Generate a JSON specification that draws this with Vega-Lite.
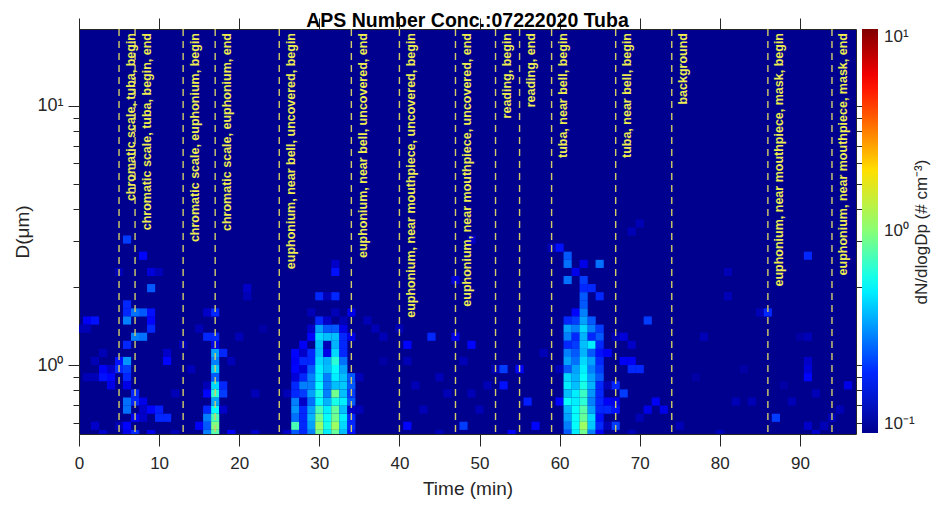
{
"$schema": "https://vega.github.io/schema/vega-lite/v6.json",
"width": 777, "height": 405,
"autosize": {"type": "none"},
"padding": {"left": 79, "top": 29, "right": 86, "bottom": 72},
"background": "white",
"title": {"text": "APS Number Conc.:07222020 Tuba", "fontSize": 19.5, "fontWeight": "bold", "font": "Liberation Sans", "color": "#000000", "baseline": "alphabetic", "offset": -29, "anchor": "middle"},
"config": {
  "view": {"fill": "#00008F", "stroke": null},
  "font": "Liberation Sans",
  "axis": {"domainColor": "#262626", "tickColor": "#262626", "labelColor": "#262626", "titleColor": "#262626", "grid": false, "labelFont": "Liberation Sans", "titleFont": "Liberation Sans", "titleFontWeight": "normal", "domainWidth": 1, "tickWidth": 1}
},
"datasets": {
"events": [
{"t":5,"label":"chromatic scale, tuba, begin"},
{"t":7,"label":"chromatic scale, tuba, begin, end"},
{"t":13,"label":"chromatic scale, euphonium, begin"},
{"t":17,"label":"chromatic scale, euphonium, end"},
{"t":25,"label":"euphonium, near bell, uncovered, begin"},
{"t":34,"label":"euphonium, near bell, uncovered, end"},
{"t":40,"label":"euphonium, near mouthpiece, uncovered, begin"},
{"t":47,"label":"euphonium, near mouthpiece, uncovered, end"},
{"t":52,"label":"reading, begin"},
{"t":55,"label":"reading, end"},
{"t":59,"label":"tuba, near bell, begin"},
{"t":67,"label":"tuba, near bell, begin"},
{"t":74,"label":"background"},
{"t":86,"label":"euphonium, near mouthpiece, mask, begin"},
{"t":94,"label":"euphonium, near mouthpiece, mask, end"}
],
"cells": [
{"t":0,"d":1.382,"v":0.12},
{"t":1,"d":1.486,"v":0.16},{"t":1,"d":1.382,"v":0.12},{"t":1,"d":0.898,"v":0.12},
{"t":2,"d":1.486,"v":0.18},{"t":2,"d":1.037,"v":0.12},{"t":2,"d":0.898,"v":0.12},{"t":2,"d":0.583,"v":0.13},
{"t":3,"d":0.898,"v":0.18},{"t":3,"d":0.965,"v":0.16},{"t":3,"d":0.542,"v":0.13},{"t":3,"d":1.114,"v":0.12},
{"t":4,"d":0.898,"v":0.17},{"t":4,"d":0.835,"v":0.15},{"t":4,"d":0.965,"v":0.13},
{"t":5,"d":0.965,"v":0.2},{"t":5,"d":1.037,"v":0.18},{"t":5,"d":2.288,"v":0.12},{"t":5,"d":0.583,"v":0.12},
{"t":6,"d":3.051,"v":0.22},{"t":6,"d":1.715,"v":0.2},{"t":6,"d":1.596,"v":0.2},{"t":6,"d":1.486,"v":0.3},{"t":6,"d":1.197,"v":0.2},{"t":6,"d":1.037,"v":0.33},{"t":6,"d":0.965,"v":0.22},{"t":6,"d":0.898,"v":0.2},{"t":6,"d":0.835,"v":0.15},{"t":6,"d":0.723,"v":0.28},{"t":6,"d":0.673,"v":0.28},{"t":6,"d":0.583,"v":0.17},{"t":6,"d":0.542,"v":0.15},
{"t":7,"d":1.596,"v":0.28},{"t":7,"d":1.286,"v":0.3},{"t":7,"d":0.777,"v":0.2},{"t":7,"d":0.723,"v":0.2},{"t":7,"d":0.626,"v":0.16},{"t":7,"d":0.542,"v":0.2},
{"t":8,"d":2.642,"v":0.17},{"t":8,"d":1.596,"v":0.25},{"t":8,"d":1.286,"v":0.28},{"t":8,"d":0.723,"v":0.15},{"t":8,"d":0.673,"v":0.13},{"t":8,"d":0.626,"v":0.13},
{"t":9,"d":1.981,"v":0.25},{"t":9,"d":1.596,"v":0.18},{"t":9,"d":1.486,"v":0.17},{"t":9,"d":1.382,"v":0.2},{"t":9,"d":0.673,"v":0.17},{"t":9,"d":0.542,"v":0.15},{"t":9,"d":2.288,"v":0.14},
{"t":10,"d":0.626,"v":0.2},{"t":10,"d":0.673,"v":0.19},{"t":10,"d":2.288,"v":0.12},
{"t":11,"d":0.626,"v":0.2},{"t":11,"d":1.037,"v":0.17},{"t":11,"d":1.114,"v":0.13},
{"t":12,"d":0.542,"v":0.12},{"t":12,"d":0.777,"v":0.12},
{"t":13,"d":1.197,"v":0.12},
{"t":14,"d":0.965,"v":0.12},
{"t":15,"d":0.583,"v":0.16},{"t":15,"d":1.382,"v":0.12},
{"t":16,"d":1.286,"v":0.2},{"t":16,"d":0.835,"v":0.12},{"t":16,"d":0.777,"v":0.17},{"t":16,"d":0.673,"v":0.2},{"t":16,"d":0.626,"v":0.3},{"t":16,"d":0.583,"v":0.25},{"t":16,"d":0.542,"v":0.3},{"t":16,"d":1.596,"v":0.13},
{"t":17,"d":0.542,"v":0.8},{"t":17,"d":0.583,"v":0.95},{"t":17,"d":0.626,"v":0.75},{"t":17,"d":0.673,"v":0.55},{"t":17,"d":0.723,"v":0.35},{"t":17,"d":0.777,"v":0.65},{"t":17,"d":0.835,"v":0.45},{"t":17,"d":0.898,"v":0.25},{"t":17,"d":0.965,"v":0.42},{"t":17,"d":1.037,"v":0.3},{"t":17,"d":1.114,"v":0.35},{"t":17,"d":1.197,"v":0.15},{"t":17,"d":1.286,"v":0.2},{"t":17,"d":1.596,"v":0.2},
{"t":18,"d":1.114,"v":0.2},{"t":18,"d":0.835,"v":0.2},{"t":18,"d":0.777,"v":0.22},{"t":18,"d":0.673,"v":0.13},
{"t":19,"d":0.542,"v":0.16},{"t":19,"d":1.037,"v":0.12},
{"t":20,"d":1.286,"v":0.12},
{"t":21,"d":1.843,"v":0.12},{"t":21,"d":1.981,"v":0.13},
{"t":22,"d":0.542,"v":0.13},{"t":22,"d":0.777,"v":0.12},
{"t":23,"d":1.382,"v":0.11},
{"t":26,"d":0.542,"v":0.13},{"t":26,"d":0.777,"v":0.12},
{"t":27,"d":0.542,"v":0.25},{"t":27,"d":0.583,"v":0.75},{"t":27,"d":0.626,"v":0.28},{"t":27,"d":0.673,"v":0.33},{"t":27,"d":0.723,"v":0.3},{"t":27,"d":0.777,"v":0.2},{"t":27,"d":0.835,"v":0.2},{"t":27,"d":0.898,"v":0.14},{"t":27,"d":0.965,"v":0.17},{"t":27,"d":1.037,"v":0.16},{"t":27,"d":1.114,"v":0.17},
{"t":28,"d":0.542,"v":0.2},{"t":28,"d":0.583,"v":0.2},{"t":28,"d":0.626,"v":0.2},{"t":28,"d":0.673,"v":0.2},{"t":28,"d":0.723,"v":0.13},{"t":28,"d":0.777,"v":0.22},{"t":28,"d":0.835,"v":0.3},{"t":28,"d":0.898,"v":0.2},{"t":28,"d":0.965,"v":0.14},{"t":28,"d":1.037,"v":0.2},{"t":28,"d":1.114,"v":0.13},{"t":28,"d":1.197,"v":0.16},
{"t":29,"d":0.542,"v":0.3},{"t":29,"d":0.583,"v":0.35},{"t":29,"d":0.626,"v":0.38},{"t":29,"d":0.673,"v":0.35},{"t":29,"d":0.723,"v":0.28},{"t":29,"d":0.777,"v":0.35},{"t":29,"d":0.835,"v":0.3},{"t":29,"d":0.898,"v":0.3},{"t":29,"d":0.965,"v":0.25},{"t":29,"d":1.037,"v":0.2},{"t":29,"d":1.114,"v":0.2},{"t":29,"d":1.286,"v":0.17},{"t":29,"d":1.382,"v":0.13},{"t":29,"d":1.596,"v":0.12},
{"t":30,"d":0.542,"v":0.9},{"t":30,"d":0.583,"v":1.1},{"t":30,"d":0.626,"v":0.9},{"t":30,"d":0.673,"v":0.75},{"t":30,"d":0.723,"v":0.55},{"t":30,"d":0.777,"v":0.6},{"t":30,"d":0.835,"v":0.55},{"t":30,"d":0.898,"v":0.5},{"t":30,"d":0.965,"v":0.5},{"t":30,"d":1.037,"v":0.45},{"t":30,"d":1.114,"v":0.4},{"t":30,"d":1.197,"v":0.4},{"t":30,"d":1.286,"v":0.45},{"t":30,"d":1.382,"v":0.35},{"t":30,"d":1.486,"v":0.2},{"t":30,"d":1.843,"v":0.2},
{"t":31,"d":0.542,"v":0.5},{"t":31,"d":0.583,"v":0.6},{"t":31,"d":0.626,"v":0.55},{"t":31,"d":0.673,"v":0.5},{"t":31,"d":0.723,"v":0.38},{"t":31,"d":0.777,"v":0.3},{"t":31,"d":0.835,"v":0.3},{"t":31,"d":0.898,"v":0.3},{"t":31,"d":0.965,"v":0.4},{"t":31,"d":1.037,"v":0.38},{"t":31,"d":1.114,"v":0.15},{"t":31,"d":1.197,"v":0.12},{"t":31,"d":1.286,"v":0.4},{"t":31,"d":1.382,"v":0.25},{"t":31,"d":1.486,"v":0.13},{"t":31,"d":1.843,"v":0.12},
{"t":32,"d":0.542,"v":0.85},{"t":32,"d":0.583,"v":1.1},{"t":32,"d":0.626,"v":0.9},{"t":32,"d":0.673,"v":0.85},{"t":32,"d":0.723,"v":0.6},{"t":32,"d":0.777,"v":0.9},{"t":32,"d":0.835,"v":0.4},{"t":32,"d":0.898,"v":0.5},{"t":32,"d":0.965,"v":0.55},{"t":32,"d":1.037,"v":0.65},{"t":32,"d":1.114,"v":0.45},{"t":32,"d":1.197,"v":0.38},{"t":32,"d":1.286,"v":0.4},{"t":32,"d":1.382,"v":0.25},{"t":32,"d":1.596,"v":0.12},{"t":32,"d":1.843,"v":0.2},{"t":32,"d":2.288,"v":0.18},{"t":32,"d":2.458,"v":0.13},
{"t":33,"d":0.542,"v":0.4},{"t":33,"d":0.583,"v":0.45},{"t":33,"d":0.626,"v":0.5},{"t":33,"d":0.673,"v":0.4},{"t":33,"d":0.723,"v":0.5},{"t":33,"d":0.777,"v":0.4},{"t":33,"d":0.835,"v":0.42},{"t":33,"d":0.898,"v":0.4},{"t":33,"d":0.965,"v":0.35},{"t":33,"d":1.037,"v":0.28},{"t":33,"d":1.114,"v":0.2},{"t":33,"d":1.197,"v":0.2},{"t":33,"d":1.286,"v":0.2},{"t":33,"d":1.382,"v":0.15},{"t":33,"d":1.486,"v":0.12},
{"t":34,"d":0.542,"v":0.18},{"t":34,"d":0.583,"v":0.2},{"t":34,"d":0.626,"v":0.2},{"t":34,"d":0.673,"v":0.13},{"t":34,"d":0.723,"v":0.25},{"t":34,"d":0.777,"v":0.22},{"t":34,"d":0.835,"v":0.25},{"t":34,"d":0.898,"v":0.25},{"t":34,"d":1.286,"v":0.15},{"t":34,"d":1.596,"v":0.15},
{"t":35,"d":0.673,"v":0.12},{"t":35,"d":0.898,"v":0.12},
{"t":36,"d":1.486,"v":0.12},
{"t":37,"d":1.382,"v":0.12},
{"t":38,"d":1.286,"v":0.12},{"t":38,"d":1.037,"v":0.11},
{"t":40,"d":1.382,"v":0.12},
{"t":41,"d":1.197,"v":0.17},{"t":41,"d":0.583,"v":0.17},{"t":41,"d":1.037,"v":0.12},
{"t":42,"d":0.835,"v":0.12},
{"t":43,"d":0.673,"v":0.12},
{"t":44,"d":1.286,"v":0.2},
{"t":45,"d":0.898,"v":0.12},{"t":45,"d":0.542,"v":0.12},
{"t":46,"d":0.777,"v":0.12},
{"t":47,"d":1.286,"v":0.15},{"t":47,"d":2.129,"v":0.14},
{"t":48,"d":0.583,"v":0.22},{"t":48,"d":1.037,"v":0.12},
{"t":49,"d":1.197,"v":0.17},{"t":49,"d":3.051,"v":0.13},{"t":49,"d":0.777,"v":0.12},
{"t":50,"d":0.673,"v":0.12},
{"t":51,"d":0.835,"v":0.12},
{"t":52,"d":0.965,"v":0.12},
{"t":53,"d":0.965,"v":0.22},{"t":53,"d":0.835,"v":0.18},
{"t":54,"d":0.542,"v":0.16},
{"t":55,"d":0.965,"v":0.17},
{"t":56,"d":0.723,"v":0.19},
{"t":57,"d":0.583,"v":0.17},
{"t":58,"d":1.114,"v":0.12},
{"t":59,"d":2.839,"v":0.12},
{"t":60,"d":2.839,"v":0.18},{"t":60,"d":0.723,"v":0.17},{"t":60,"d":0.965,"v":0.12},
{"t":61,"d":2.642,"v":0.25},{"t":61,"d":2.458,"v":0.28},{"t":61,"d":2.129,"v":0.28},{"t":61,"d":1.486,"v":0.2},{"t":61,"d":1.382,"v":0.35},{"t":61,"d":1.286,"v":0.3},{"t":61,"d":1.197,"v":0.2},{"t":61,"d":1.114,"v":0.3},{"t":61,"d":1.037,"v":0.35},{"t":61,"d":0.965,"v":0.25},{"t":61,"d":0.898,"v":0.45},{"t":61,"d":0.835,"v":0.5},{"t":61,"d":0.777,"v":0.4},{"t":61,"d":0.723,"v":0.55},{"t":61,"d":0.673,"v":0.38},{"t":61,"d":0.626,"v":0.35},{"t":61,"d":0.583,"v":0.3},{"t":61,"d":0.542,"v":0.25},
{"t":62,"d":2.288,"v":0.15},{"t":62,"d":1.596,"v":0.17},{"t":62,"d":1.486,"v":0.22},{"t":62,"d":1.382,"v":0.3},{"t":62,"d":1.286,"v":0.2},{"t":62,"d":1.197,"v":0.22},{"t":62,"d":1.114,"v":0.25},{"t":62,"d":1.037,"v":0.28},{"t":62,"d":0.965,"v":0.35},{"t":62,"d":0.898,"v":0.38},{"t":62,"d":0.835,"v":0.4},{"t":62,"d":0.777,"v":0.5},{"t":62,"d":0.723,"v":0.5},{"t":62,"d":0.673,"v":0.55},{"t":62,"d":0.626,"v":0.55},{"t":62,"d":0.583,"v":0.55},{"t":62,"d":0.542,"v":0.5},
{"t":63,"d":2.458,"v":0.15},{"t":63,"d":2.129,"v":0.22},{"t":63,"d":1.981,"v":0.2},{"t":63,"d":1.843,"v":0.25},{"t":63,"d":1.715,"v":0.25},{"t":63,"d":1.596,"v":0.3},{"t":63,"d":1.486,"v":0.35},{"t":63,"d":1.382,"v":0.45},{"t":63,"d":1.286,"v":0.38},{"t":63,"d":1.197,"v":0.4},{"t":63,"d":1.114,"v":0.38},{"t":63,"d":1.037,"v":0.45},{"t":63,"d":0.965,"v":0.5},{"t":63,"d":0.898,"v":0.55},{"t":63,"d":0.835,"v":0.6},{"t":63,"d":0.777,"v":0.7},{"t":63,"d":0.723,"v":0.65},{"t":63,"d":0.673,"v":0.8},{"t":63,"d":0.626,"v":0.85},{"t":63,"d":0.583,"v":1.1},{"t":63,"d":0.542,"v":0.9},
{"t":64,"d":1.981,"v":0.2},{"t":64,"d":1.486,"v":0.25},{"t":64,"d":1.382,"v":0.3},{"t":64,"d":1.286,"v":0.2},{"t":64,"d":1.197,"v":0.5},{"t":64,"d":1.114,"v":0.25},{"t":64,"d":1.037,"v":0.35},{"t":64,"d":0.965,"v":0.3},{"t":64,"d":0.898,"v":0.35},{"t":64,"d":0.835,"v":0.38},{"t":64,"d":0.777,"v":0.33},{"t":64,"d":0.723,"v":0.3},{"t":64,"d":0.673,"v":0.35},{"t":64,"d":0.626,"v":0.45},{"t":64,"d":0.583,"v":0.42},{"t":64,"d":0.542,"v":0.3},
{"t":65,"d":2.458,"v":0.28},{"t":65,"d":1.843,"v":0.2},{"t":65,"d":1.382,"v":0.22},{"t":65,"d":1.286,"v":0.25},{"t":65,"d":1.197,"v":0.2},{"t":65,"d":1.114,"v":0.18},{"t":65,"d":1.037,"v":0.2},{"t":65,"d":0.965,"v":0.22},{"t":65,"d":0.898,"v":0.25},{"t":65,"d":0.835,"v":0.2},{"t":65,"d":0.777,"v":0.2},{"t":65,"d":0.723,"v":0.2},{"t":65,"d":0.673,"v":0.2},{"t":65,"d":0.626,"v":0.18},{"t":65,"d":0.583,"v":0.2},{"t":65,"d":0.542,"v":0.16},
{"t":66,"d":1.114,"v":0.16},{"t":66,"d":0.723,"v":0.16},{"t":66,"d":0.673,"v":0.2},{"t":66,"d":0.835,"v":0.12},{"t":66,"d":0.583,"v":0.12},
{"t":67,"d":0.835,"v":0.2},{"t":67,"d":0.723,"v":0.15},{"t":67,"d":0.673,"v":0.18},{"t":67,"d":0.583,"v":0.22},{"t":67,"d":1.286,"v":0.12},
{"t":68,"d":1.286,"v":0.14},{"t":68,"d":0.777,"v":0.22},{"t":68,"d":1.037,"v":0.16},
{"t":69,"d":0.965,"v":0.2},{"t":69,"d":1.037,"v":0.16},{"t":69,"d":1.197,"v":0.13},{"t":69,"d":0.542,"v":0.12},{"t":69,"d":3.278,"v":0.12},
{"t":70,"d":0.965,"v":0.2},{"t":70,"d":0.626,"v":0.12},{"t":70,"d":3.523,"v":0.12},
{"t":71,"d":1.486,"v":0.22},{"t":71,"d":0.673,"v":0.15},
{"t":72,"d":0.723,"v":0.16},
{"t":73,"d":0.673,"v":0.15},
{"t":75,"d":0.583,"v":0.12},
{"t":77,"d":0.898,"v":0.11},
{"t":78,"d":1.286,"v":0.12},
{"t":80,"d":0.542,"v":0.12},
{"t":81,"d":2.288,"v":0.12},{"t":81,"d":1.843,"v":0.12},
{"t":82,"d":0.723,"v":0.12},
{"t":83,"d":0.965,"v":0.11},
{"t":84,"d":0.723,"v":0.12},
{"t":85,"d":1.596,"v":0.12},
{"t":86,"d":1.596,"v":0.2},
{"t":87,"d":0.626,"v":0.22},
{"t":88,"d":0.835,"v":0.11},
{"t":89,"d":0.723,"v":0.12},
{"t":90,"d":1.286,"v":0.11},
{"t":91,"d":2.642,"v":0.2},{"t":91,"d":1.286,"v":0.12},{"t":91,"d":1.037,"v":0.13},{"t":91,"d":0.965,"v":0.14},{"t":91,"d":0.898,"v":0.17},{"t":91,"d":0.583,"v":0.13},
{"t":92,"d":0.542,"v":0.13},{"t":92,"d":0.777,"v":0.12},
{"t":93,"d":0.583,"v":0.12},
{"t":94,"d":0.626,"v":0.12},
{"t":95,"d":0.673,"v":0.12},
{"t":96,"d":0.835,"v":0.15}
]
},
"layer": [
{
  "data": {"name": "cells"},
  "mark": {"type": "point", "shape": "square", "filled": true, "size": 66, "opacity": 1, "strokeWidth": 0, "clip": true},
  "encoding": {
    "x": {"field": "t", "type": "quantitative", "scale": {"domain": [0, 97], "nice": false, "zero": false},
      "axis": {"orient": "bottom", "values": [0,10,20,30,40,50,60,70,80,90], "tickSize": 12, "labelFontSize": 17, "labelPadding": 9, "labelFlush": false, "title": "Time (min)", "titleFontSize": 19, "titlePadding": 8}},
    "y": {"field": "d", "type": "quantitative", "scale": {"type": "log", "domain": [0.542, 19.81], "nice": false},
      "axis": {"orient": "left", "values": [0.6,0.7,0.8,0.9,1,2,3,4,5,6,7,8,9,10], "tickSize": {"condition": {"test": "datum.value == 1 || datum.value == 10", "value": 11}, "value": 6}, "labelExpr": "datum.value == 1 ? '10⁰' : datum.value == 10 ? '10¹' : ''", "labelFontSize": 18, "labelPadding": 5, "labelFlush": false, "labelOverlap": false, "title": "D(μm)", "titleFontSize": 19, "titlePadding": 4}},
    "color": {"field": "v", "type": "quantitative",
      "scale": {"type": "log", "domain": [0.1, 0.167, 0.537, 1.73, 5.57, 10], "range": ["#00008F", "#0000FF", "#00FFFF", "#FFFF00", "#FF0000", "#800000"], "interpolate": "rgb", "clamp": true},
      "legend": {"title": null, "orient": "right", "direction": "vertical", "gradientLength": 404, "gradientThickness": 16, "gradientStrokeWidth": 0, "values": [0.1, 1, 10], "labelExpr": "datum.value >= 9 ? '10¹' : datum.value >= 0.9 ? '10⁰' : '10⁻¹'", "labelFontSize": 17, "labelColor": "#262626", "labelFont": "Liberation Sans", "labelOffset": 6, "labelBaseline": "middle", "labelOverlap": false, "offset": -68, "padding": 0}}
  }
},
{
  "data": {"name": "events"},
  "mark": {"type": "rule", "color": "#D2CC6A", "strokeWidth": 1.4, "strokeDash": [7, 5]},
  "encoding": {
    "x": {"field": "t", "type": "quantitative", "scale": {"domain": [0, 97], "nice": false, "zero": false},
      "axis": {"orient": "top", "values": [0,10,20,30,40,50,60,70,80,90], "tickSize": 11, "labels": false, "title": null}}
  }
},
{
  "data": {"name": "events"},
  "mark": {"type": "text", "angle": 270, "align": "right", "baseline": "middle", "dx": -4, "dy": 11.5, "font": "Liberation Sans", "fontSize": 12.5, "fontWeight": "bold", "color": "#EDED50"},
  "encoding": {
    "x": {"field": "t", "type": "quantitative", "axis": null},
    "y": {"datum": 19.81, "type": "quantitative",
      "axis": {"orient": "right", "values": [0.6,0.7,0.8,0.9,1,2,3,4,5,6,7,8,9,10], "tickSize": {"condition": {"test": "datum.value == 1 || datum.value == 10", "value": 11}, "value": 6}, "labels": false, "title": "dN/dlogDp (# cm⁻³)", "titleAngle": 270, "titleBaseline": "top", "titleFontSize": 17, "titlePadding": 46}},
    "text": {"field": "label"}
  }
}
],
"resolve": {"axis": {"x": "independent", "y": "independent"}}
}
